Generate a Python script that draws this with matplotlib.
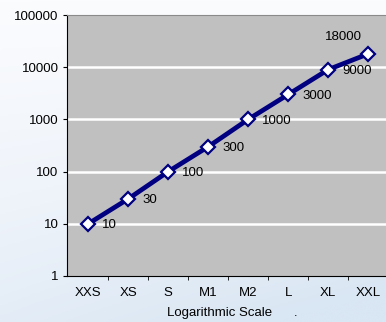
import numpy as np
import matplotlib
matplotlib.use("Agg")
import matplotlib.pyplot as plt
from matplotlib.colors import LinearSegmentedColormap

plt.rcParams['font.family'] = ['Liberation Sans', 'DejaVu Sans']

# Size categories and their values on a log scale
categories = ["XXS", "XS", "S", "M1", "M2", "L", "XL", "XXL"]
values = [10, 30, 100, 300, 1000, 3000, 9000, 18000]
y_ticks = [1, 10, 100, 1000, 10000, 100000]
x_title = "Logarithmic Scale"

fig = plt.figure(figsize=(3.86, 3.22), dpi=100)

# soft bluish backdrop across the whole figure
bg = fig.add_axes([0, 0, 1, 1], zorder=-10)
yy, xx = np.mgrid[0:1:200j, 0:1:200j]
grad = np.clip(0.75 * yy + 0.35 * xx * yy, 0, 1)
cmap = LinearSegmentedColormap.from_list("bg", ["#fbfcfe", "#eef3fa", "#d9e6f3"])
bg.imshow(grad, cmap=cmap, aspect="auto", extent=[0, 1, 0, 1], origin="upper")
bg.axis("off")

ax = fig.add_axes([67 / 386, 1 - 276 / 322, 320 / 386, 261 / 322])
ax.set_facecolor("#c0c0c0")
ax.set_yscale("log")
ax.set_ylim(1, 100000)
ax.set_xlim(-0.53, len(categories) - 0.53)

x = np.arange(len(categories))
ax.plot(x, values, color="#000080", lw=3.4, marker="D", markersize=7,
        markerfacecolor="white", markeredgecolor="#000080", markeredgewidth=1.6,
        zorder=5, clip_on=False)

# value labels
for i, v in enumerate(values):
    if i == len(values) - 1:
        ax.annotate(f"{v}", (i, v), xytext=(-18, 12), textcoords="offset points",
                    ha="center", va="center", fontsize=9.5, color="black", zorder=6)
    else:
        ax.annotate(f"{v}", (i, v), xytext=(10, -1), textcoords="offset points",
                    ha="left", va="center", fontsize=9.5, color="black", zorder=6)

ax.set_yticks(y_ticks)
ax.set_yticklabels([str(t) for t in y_ticks], fontsize=9.5)
ax.yaxis.set_minor_locator(matplotlib.ticker.NullLocator())
ax.set_xticks(x)
ax.set_xticklabels(categories, fontsize=9.5)
ax.set_xticks(np.arange(0.5, len(categories) - 0.5, 1), minor=True)
ax.tick_params(axis="x", which="major", length=0, pad=8)
ax.tick_params(axis="x", which="minor", length=3, direction="out", color="black")
ax.tick_params(axis="y", which="major", length=3, direction="out", pad=3)

for t in y_ticks[1:-1]:
    ax.axhline(t, color="white", lw=1.8, zorder=1)

ax.spines["right"].set_visible(False)
ax.spines["top"].set_color("#8a8a8a")
ax.spines["left"].set_color("black")
ax.spines["bottom"].set_color("black")

fig.text(167 / 386, 1 - 313 / 322, x_title + "      .", fontsize=9.5,
         ha="left", va="center")

fig.savefig("out.png", dpi=100)
